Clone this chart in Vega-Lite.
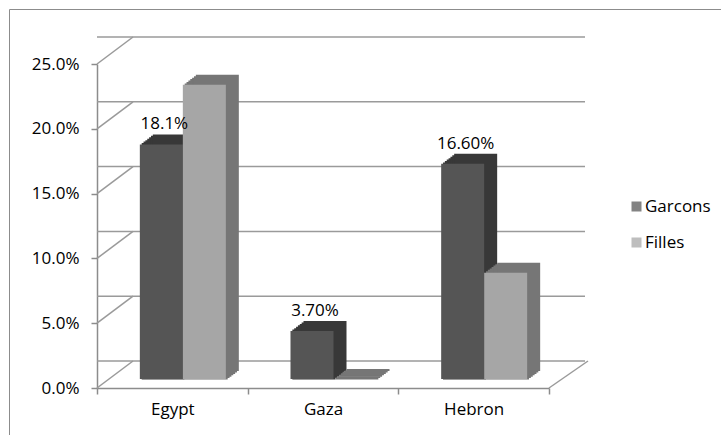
{
  "$schema": "https://vega.github.io/schema/vega-lite/v6.json",
  "width": 452,
  "height": 324,
  "autosize": {"type": "none"},
  "padding": {"left": 97, "top": 64, "right": 172, "bottom": 47},
  "background": "white",
  "config": {"view": {"stroke": null}, "font": "Open Sans"},
  "datasets": {
    "bars": [
      {"region": "Egypt", "sex": "Garcons", "value": 0.181, "label": "18.1%"},
      {"region": "Egypt", "sex": "Filles", "value": 0.227, "label": ""},
      {"region": "Gaza", "sex": "Garcons", "value": 0.037, "label": "3.70%"},
      {"region": "Gaza", "sex": "Filles", "value": 0, "label": ""},
      {"region": "Hebron", "sex": "Garcons", "value": 0.166, "label": "16.60%"},
      {"region": "Hebron", "sex": "Filles", "value": 0.082, "label": ""}
    ],
    "grid": [{"v": 0}, {"v": 0.05}, {"v": 0.1}, {"v": 0.15}, {"v": 0.2}, {"v": 0.25}]
  },
  "resolve": {"scale": {"x": "independent"}, "axis": {"x": "independent", "y": "independent"}},
  "layer": [
    {
      "data": {"name": "grid"},
      "layer": [
        {
          "transform": [{"filter": "datum.v == 0"}],
          "mark": {"type": "rect", "filled": false, "stroke": "#8c8c8c", "strokeWidth": 1, "xOffset": -87.5, "x2Offset": 200, "yOffset": -54.5, "y2Offset": 100},
          "encoding": {
            "x": {"datum": 0, "type": "quantitative", "scale": {"domain": [0, 1]}, "axis": null},
            "x2": {"datum": 1},
            "y": {"datum": 0.25, "type": "quantitative", "scale": {"domain": [0, 0.25]}, "axis": null},
            "y2": {"datum": 0}
          }
        },
        {
          "mark": {"type": "rule", "color": "#9a9a9a", "strokeWidth": 1.5, "xOffset": 36, "x2Offset": 39, "yOffset": -27},
          "encoding": {
            "y": {"field": "v", "type": "quantitative", "scale": {"domain": [0, 0.25]}, "axis": null}
          }
        },
        {
          "mark": {"type": "rule", "color": "#9a9a9a", "strokeWidth": 1.5, "x2Offset": 36, "y2Offset": -27},
          "encoding": {
            "x": {"datum": 0, "type": "quantitative", "scale": {"domain": [0, 1]}, "axis": null},
            "x2": {"datum": 0},
            "y": {"field": "v", "type": "quantitative", "scale": {"domain": [0, 0.25]}, "axis": null},
            "y2": {"field": "v"}
          }
        },
        {
          "transform": [{"filter": "datum.v == 0"}],
          "mark": {"type": "rule", "color": "#9a9a9a", "strokeWidth": 1.5, "x2Offset": 39, "y2Offset": -27},
          "encoding": {
            "x": {"datum": 1, "type": "quantitative", "scale": {"domain": [0, 1]}, "axis": null},
            "x2": {"datum": 1},
            "y": {"field": "v", "type": "quantitative", "scale": {"domain": [0, 0.25]}, "axis": null},
            "y2": {"field": "v"}
          }
        }
      ]
    },
    {
      "data": {"name": "bars"},
      "encoding": {
        "x": {
          "field": "region", "type": "nominal", "sort": null,
          "scale": {"paddingInner": 0, "paddingOuter": 0},
          "axis": {"title": null, "labelAngle": 0, "tickBand": "extent", "tickSize": 6, "tickColor": "#8c8c8c", "domainColor": "#8c8c8c", "domainWidth": 1.5, "tickWidth": 1.5, "labelFontSize": 17, "labelColor": "#000000", "labelPadding": 7, "grid": false}
        },
        "y": {
          "field": "value", "type": "quantitative", "stack": null,
          "scale": {"domain": [0, 0.25]},
          "axis": {"title": null, "values": [0, 0.05, 0.1, 0.15, 0.2, 0.25], "format": ".1%", "tickSize": 6, "tickColor": "#8c8c8c", "tickWidth": 1.5, "domainColor": "#8c8c8c", "domainWidth": 1.5, "labelFontSize": 17, "labelColor": "#000000", "labelPadding": 12, "grid": false}
        },
        "y2": {"datum": 0}
      },
      "layer": [
        {"transform": [{"filter": "datum.sex == 'Garcons'"}], "mark": {"type": "bar", "width": 43, "color": "#383838", "xOffset": -9.14, "yOffset": -10.43, "y2Offset": -8.6}},
        {"transform": [{"filter": "datum.sex == 'Garcons'"}], "mark": {"type": "bar", "width": 43, "color": "#383838", "xOffset": -7.29, "yOffset": -11.86, "y2Offset": -9.9}},
        {"transform": [{"filter": "datum.sex == 'Garcons'"}], "mark": {"type": "bar", "width": 43, "color": "#383838", "xOffset": -5.43, "yOffset": -13.29, "y2Offset": -11.3}},
        {"transform": [{"filter": "datum.sex == 'Garcons'"}], "mark": {"type": "bar", "width": 43, "color": "#383838", "xOffset": -3.57, "yOffset": -14.71, "y2Offset": -12.7}},
        {"transform": [{"filter": "datum.sex == 'Garcons'"}], "mark": {"type": "bar", "width": 43, "color": "#383838", "xOffset": -1.71, "yOffset": -16.14, "y2Offset": -14.1}},
        {"transform": [{"filter": "datum.sex == 'Garcons'"}], "mark": {"type": "bar", "width": 43, "color": "#383838", "xOffset": 0.14, "yOffset": -17.57, "y2Offset": -15.5}},
        {"transform": [{"filter": "datum.sex == 'Garcons'"}], "mark": {"type": "bar", "width": 43, "color": "#383838", "xOffset": 2, "yOffset": -19, "y2Offset": -16.9}},
        {"transform": [{"filter": "datum.sex == 'Filles'"}], "mark": {"type": "bar", "width": 43, "color": "#767676", "xOffset": 33.86, "yOffset": -10.43, "y2Offset": -8.6}},
        {"transform": [{"filter": "datum.sex == 'Filles'"}], "mark": {"type": "bar", "width": 43, "color": "#767676", "xOffset": 35.71, "yOffset": -11.86, "y2Offset": -9.9}},
        {"transform": [{"filter": "datum.sex == 'Filles'"}], "mark": {"type": "bar", "width": 43, "color": "#767676", "xOffset": 37.57, "yOffset": -13.29, "y2Offset": -11.3}},
        {"transform": [{"filter": "datum.sex == 'Filles'"}], "mark": {"type": "bar", "width": 43, "color": "#767676", "xOffset": 39.43, "yOffset": -14.71, "y2Offset": -12.7}},
        {"transform": [{"filter": "datum.sex == 'Filles'"}], "mark": {"type": "bar", "width": 43, "color": "#767676", "xOffset": 41.29, "yOffset": -16.14, "y2Offset": -14.1}},
        {"transform": [{"filter": "datum.sex == 'Filles'"}], "mark": {"type": "bar", "width": 43, "color": "#767676", "xOffset": 43.14, "yOffset": -17.57, "y2Offset": -15.5}},
        {"transform": [{"filter": "datum.sex == 'Filles'"}], "mark": {"type": "bar", "width": 43, "color": "#767676", "xOffset": 45, "yOffset": -19, "y2Offset": -16.9}},
        {
          "transform": [{"filter": "datum.sex == 'Garcons'"}],
          "mark": {"type": "bar", "width": 43, "xOffset": -11, "yOffset": -9, "y2Offset": -9},
          "encoding": {
            "color": {
              "field": "sex", "type": "nominal",
              "scale": {"domain": ["Garcons", "Filles"], "range": ["#555555", "#a6a6a6"]},
              "legend": {"title": null, "orient": "none", "legendX": 531, "legendY": 134, "symbolType": "square", "symbolSize": 100, "symbolStrokeWidth": 0, "symbolOpacity": 0.73, "labelFontSize": 17, "labelColor": "#000000", "rowPadding": 18, "labelOffset": 0, "padding": 0}
            }
          }
        },
        {
          "transform": [{"filter": "datum.sex == 'Filles'"}],
          "mark": {"type": "bar", "width": 43, "xOffset": 32, "yOffset": -9, "y2Offset": -9},
          "encoding": {
            "color": {
              "field": "sex", "type": "nominal",
              "scale": {"domain": ["Garcons", "Filles"], "range": ["#555555", "#a6a6a6"]},
              "legend": {"title": null, "orient": "none", "legendX": 531, "legendY": 134, "symbolType": "square", "symbolSize": 100, "symbolStrokeWidth": 0, "symbolOpacity": 0.73, "labelFontSize": 17, "labelColor": "#000000", "rowPadding": 18, "labelOffset": 0, "padding": 0}
            }
          }
        },
        {
          "transform": [{"filter": "datum.label != ''"}],
          "mark": {"type": "text", "fontSize": 17, "color": "#000000", "baseline": "middle", "align": "center", "xOffset": -8, "yOffset": -29},
          "encoding": {"text": {"field": "label", "type": "nominal"}, "y2": null}
        }
      ]
    }
  ]
}
